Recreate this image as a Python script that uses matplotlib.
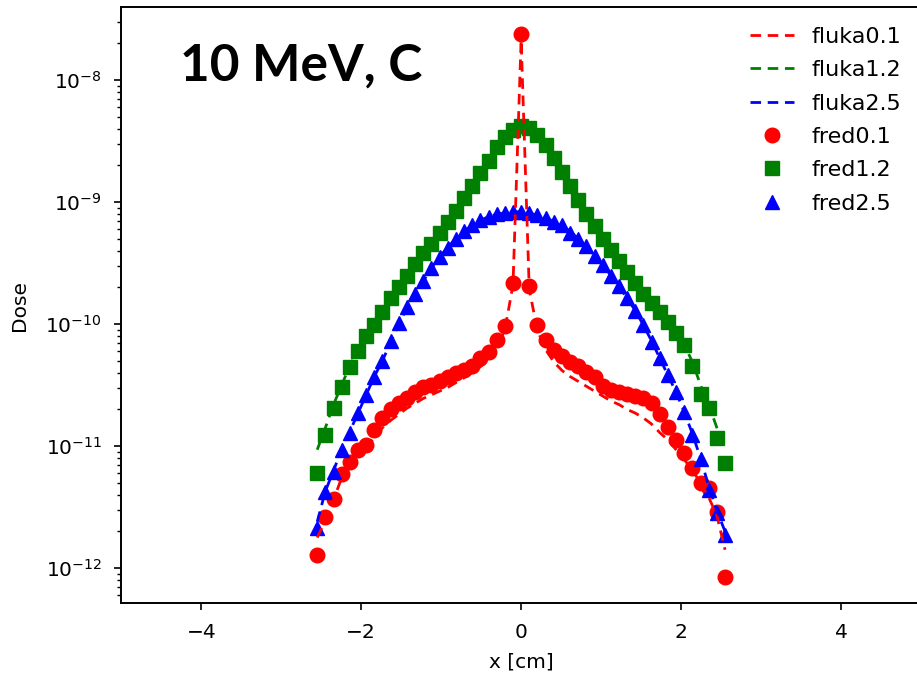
import numpy as np
import matplotlib
matplotlib.use('Agg')
import matplotlib.pyplot as plt

# lateral position of the scoring bins [cm]
x = np.linspace(-2.55, 2.55, 51)

# log10 of the dose in each bin, fluka reference runs
fluka01_log = [-11.75, -11.61, -11.44, -11.26, -11.16, -11.07, -11.01, -10.93, -10.85, -10.79,
               -10.74, -10.69, -10.65, -10.61, -10.58, -10.55, -10.52, -10.48, -10.44, -10.40,
               -10.35, -10.30, -10.20, -10.05, -9.68, -7.67, -9.72, -10.05, -10.21, -10.31,
               -10.38, -10.43, -10.47, -10.51, -10.55, -10.59, -10.63, -10.66, -10.70, -10.73,
               -10.77, -10.82, -10.89, -10.95, -11.03, -11.11, -11.20, -11.30, -11.42, -11.57,
               -11.85]
fluka12_log = [-11.03, -10.85, -10.66, -10.50, -10.34, -10.21, -10.09, -9.99, -9.89, -9.79,
               -9.69, -9.60, -9.51, -9.42, -9.33, -9.24, -9.15, -9.06, -8.96, -8.86,
               -8.76, -8.66, -8.56, -8.47, -8.41, -8.38, -8.40, -8.46, -8.54, -8.64,
               -8.75, -8.86, -8.97, -9.08, -9.19, -9.29, -9.38, -9.47, -9.56, -9.65,
               -9.74, -9.82, -9.90, -9.98, -10.07, -10.17, -10.31, -10.50, -10.66, -10.85,
               -11.03]
fluka25_log = [-11.62, -11.37, -11.20, -11.03, -10.88, -10.73, -10.58, -10.43, -10.30, -10.15,
               -10.00, -9.87, -9.75, -9.65, -9.54, -9.45, -9.37, -9.30, -9.24, -9.19,
               -9.15, -9.12, -9.10, -9.09, -9.08, -9.08, -9.09, -9.11, -9.13, -9.16,
               -9.19, -9.24, -9.30, -9.36, -9.44, -9.52, -9.60, -9.69, -9.79, -9.89,
               -10.01, -10.14, -10.28, -10.42, -10.56, -10.72, -10.90, -11.10, -11.33, -11.53,
               -11.70]

# log10 of the dose in each bin, fred runs
fred01_log = [-11.89, -11.58, -11.43, -11.23, -11.13, -11.03, -10.99, -10.87, -10.77, -10.70,
              -10.65, -10.61, -10.56, -10.52, -10.50, -10.47, -10.43, -10.40, -10.38, -10.34,
              -10.28, -10.23, -10.13, -10.02, -9.66, -7.62, -9.69, -10.01, -10.13, -10.21,
              -10.26, -10.31, -10.34, -10.39, -10.43, -10.51, -10.54, -10.56, -10.57, -10.59,
              -10.61, -10.65, -10.74, -10.84, -10.95, -11.06, -11.18, -11.30, -11.34, -11.54,
              -12.07]
fred12_log = [-11.22, -10.91, -10.69, -10.52, -10.35, -10.22, -10.10, -10.01, -9.90, -9.79,
              -9.70, -9.61, -9.51, -9.42, -9.34, -9.25, -9.16, -9.07, -8.97, -8.87,
              -8.76, -8.66, -8.55, -8.47, -8.41, -8.38, -8.39, -8.45, -8.53, -8.64,
              -8.75, -8.87, -8.98, -9.10, -9.20, -9.30, -9.39, -9.48, -9.57, -9.66,
              -9.75, -9.83, -9.90, -9.98, -10.07, -10.17, -10.34, -10.57, -10.69, -10.93,
              -11.14]
fred25_log = [-11.67, -11.38, -11.21, -11.03, -10.89, -10.73, -10.58, -10.43, -10.30, -10.14,
              -9.99, -9.86, -9.75, -9.65, -9.54, -9.45, -9.38, -9.30, -9.24, -9.19,
              -9.15, -9.12, -9.10, -9.09, -9.08, -9.08, -9.09, -9.11, -9.13, -9.16,
              -9.19, -9.25, -9.30, -9.36, -9.44, -9.52, -9.61, -9.69, -9.79, -9.89,
              -10.01, -10.15, -10.28, -10.42, -10.56, -10.72, -10.91, -11.11, -11.36, -11.55,
              -11.73]

# decades labelled on the dose axis
dose_ticks = [1e-12, 1e-11, 1e-10, 1e-9, 1e-8]

fluka = [('fluka0.1', fluka01_log, 'r'),
         ('fluka1.2', fluka12_log, 'g'),
         ('fluka2.5', fluka25_log, 'b')]
fred = [('fred0.1', fred01_log, 'r', 'o'),
        ('fred1.2', fred12_log, 'g', 's'),
        ('fred2.5', fred25_log, 'b', '^')]

fig = plt.figure(figsize=(9.17, 6.76), dpi=100)
ax = fig.add_axes([0.1323, 0.1075, 0.872, 0.8817])

for label, vals, col in fluka:
    ax.plot(x, 10.0 ** np.array(vals), color=col, lw=2.0,
            linestyle=(0, (3.8, 2.4)), label=label, zorder=3)
for label, vals, col, mk in fred:
    ax.plot(x, 10.0 ** np.array(vals), color=col, marker=mk, ms=10.5,
            linestyle='none', label=label, zorder=2)

ax.set_yscale('log')
ax.set_xlim(-5, 5)
ax.set_ylim(10 ** -12.289, 10 ** -7.404)
ax.set_xticks([-4, -2, 0, 2, 4])
ax.set_yticks(dose_ticks)
ax.set_xlabel('x [cm]', fontsize=14.5, labelpad=8)
ax.set_ylabel('Dose', fontsize=14.5, labelpad=12)

for s in ax.spines.values():
    s.set_linewidth(1.4)
ax.tick_params(which='major', labelsize=14.5, length=5, width=1.2, pad=9)
ax.tick_params(which='minor', length=3, width=1.0)

ax.legend(loc='upper right', bbox_to_anchor=(0.987, 0.982), borderaxespad=0,
          frameon=False, fontsize=16, handlelength=2.0, handletextpad=0.8,
          labelspacing=0.6)

ax.text(0.073, 0.877, '10 MeV, C', transform=ax.transAxes, fontsize=37,
        fontweight='bold', family='Lato', va='baseline')

fig.savefig('out.png', dpi=100)
